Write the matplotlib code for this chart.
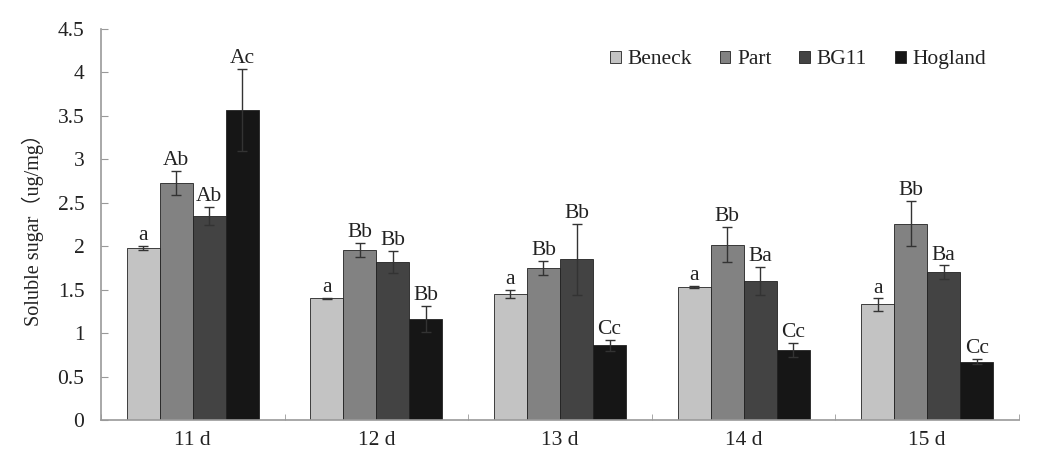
import matplotlib
matplotlib.use("Agg")
import matplotlib.pyplot as plt
import numpy as np

categories = ["11 d", "12 d", "13 d", "14 d", "15 d"]
series_names = ["Beneck", "Part", "BG11", "Hogland"]
beneck = [1.98, 1.40, 1.45, 1.53, 1.33]
part = [2.73, 1.96, 1.75, 2.02, 2.26]
bg11 = [2.35, 1.82, 1.85, 1.60, 1.70]
hogland = [3.57, 1.16, 0.86, 0.81, 0.67]
beneck_err = [0.02, 0.01, 0.05, 0.01, 0.07]
part_err = [0.14, 0.08, 0.08, 0.20, 0.26]
bg11_err = [0.10, 0.13, 0.41, 0.16, 0.08]
hogland_err = [0.47, 0.15, 0.06, 0.08, 0.03]
beneck_lab = ["a", "a", "a", "a", "a"]
part_lab = ["Ab", "Bb", "Bb", "Bb", "Bb"]
bg11_lab = ["Ab", "Bb", "Bb", "Ba", "Ba"]
hogland_lab = ["Ac", "Bb", "Cc", "Cc", "Cc"]
yticks = [0, 0.5, 1, 1.5, 2, 2.5, 3, 3.5, 4, 4.5]
ytick_labels = ["0", "0.5", "1", "1.5", "2", "2.5", "3", "3.5", "4", "4.5"]

colors = ["#c3c3c3", "#828282", "#434343", "#161616"]
values = [beneck, part, bg11, hogland]
errs = [beneck_err, part_err, bg11_err, hogland_err]
labs = [beneck_lab, part_lab, bg11_lab, hogland_lab]

plt.rcParams['font.family'] = ['Liberation Serif', 'Noto Sans CJK SC']
FS = 15.5

fig = plt.figure(figsize=(10.38, 4.72), dpi=100)
ax = fig.add_axes([0.0973, 0.110, 0.8844, 0.8286])

x = np.arange(len(categories))
w = 0.18
for i in range(4):
    pos = x + (i - 1.5) * w
    ax.bar(pos, values[i], w, color=colors[i], edgecolor="#222222", linewidth=0.6,
           label=series_names[i], zorder=2)
    ax.errorbar(pos, values[i], yerr=errs[i], fmt="none", ecolor="#333333",
                elinewidth=1.0, capsize=3.6, capthick=1.0, zorder=3)
    for p, v, e, t in zip(pos, values[i], errs[i], labs[i]):
        ax.text(p, v + e + 0.01, t, ha="center", va="bottom", fontsize=FS, color="#222222")

ax.set_xlim(-0.5, len(categories) - 0.5)
ax.set_ylim(0, 4.5)
ax.set_yticks(yticks)
ax.set_yticklabels(ytick_labels, fontsize=FS, color="#222222")
ax.set_xticks(x)
ax.set_xticklabels(categories, fontsize=FS, color="#222222")
ax.tick_params(axis="x", length=0, pad=8)
ax.set_xticks(np.arange(len(categories) + 1) - 0.5, minor=True)
ax.tick_params(axis="x", which="minor", direction="in", length=4, color="#999999")
ax.tick_params(axis="y", direction="in", length=5, color="#999999", pad=12)
for s in ["top", "right"]:
    ax.spines[s].set_visible(False)
for s in ["left", "bottom"]:
    ax.spines[s].set_color("#999999")
    ax.spines[s].set_linewidth(1.2)

ax.set_ylabel("Soluble sugar（ug/mg）", fontsize=14.5, labelpad=10, color="#222222")

leg = ax.legend(loc="upper right", bbox_to_anchor=(0.985, 0.995), ncol=4, frameon=False,
                fontsize=FS, handlelength=0.5, handleheight=0.5, handletextpad=0.3,
                columnspacing=1.3)
for t in leg.get_texts():
    t.set_color("#222222")

fig.savefig("out.png", dpi=100)
